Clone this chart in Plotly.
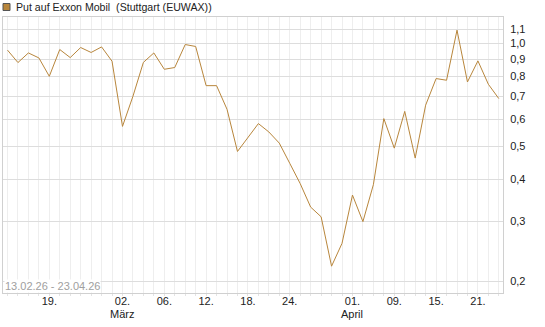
import plotly.graph_objects as go

# Trading days 13.02.26 - 23.04.26 (Stuttgart, excl. Good Friday / Easter Monday)
dates = [
    "13.02.26", "16.02.26", "17.02.26", "18.02.26", "19.02.26", "20.02.26",
    "23.02.26", "24.02.26", "25.02.26", "26.02.26", "27.02.26",
    "02.03.26", "03.03.26", "04.03.26", "05.03.26", "06.03.26",
    "09.03.26", "10.03.26", "11.03.26", "12.03.26", "13.03.26",
    "16.03.26", "17.03.26", "18.03.26", "19.03.26", "20.03.26",
    "23.03.26", "24.03.26", "25.03.26", "26.03.26", "27.03.26",
    "30.03.26", "31.03.26", "01.04.26", "02.04.26",
    "07.04.26", "08.04.26", "09.04.26", "10.04.26",
    "13.04.26", "14.04.26", "15.04.26", "16.04.26", "17.04.26",
    "20.04.26", "21.04.26", "22.04.26", "23.04.26",
]
values = [
    0.956, 0.879, 0.938, 0.907, 0.801, 0.960,
    0.909, 0.973, 0.941, 0.977, 0.887,
    0.571, 0.700, 0.880, 0.938, 0.840,
    0.850, 0.993, 0.980, 0.752, 0.752,
    0.641, 0.482, 0.530, 0.582, 0.550,
    0.510, 0.445, 0.388, 0.331, 0.310,
    0.222, 0.259, 0.359, 0.300,
    0.385, 0.602, 0.493, 0.632,
    0.461, 0.659, 0.789, 0.780, 1.094,
    0.771, 0.889, 0.759, 0.689,
]
x_tick_labels = {
    "19.02.26": "19.", "02.03.26": "02.", "06.03.26": "06.",
    "12.03.26": "12.", "18.03.26": "18.", "24.03.26": "24.",
    "01.04.26": "01.", "09.04.26": "09.", "15.04.26": "15.",
    "21.04.26": "21.",
}
month_labels = {"02.03.26": "März", "01.04.26": "April"}
y_ticks = [0.2, 0.3, 0.4, 0.5, 0.6, 0.7, 0.8, 0.9, 1.0, 1.1]
y_tick_labels = ["0,2", "0,3", "0,4", "0,5", "0,6", "0,7", "0,8", "0,9", "1,0", "1,1"]
series_name = "Put auf Exxon Mobil  (Stuttgart (EUWAX))"
range_text = "13.02.26 - 23.04.26"

LINE = "#b8863c"
FONT = "Liberation Sans, Arial, sans-serif"

W, H = 545, 327
ML, MR, MT, MB = 3, 42, 17, 34
PW, PH = W - ML - MR, H - MT - MB

def px_x(p):
    return (p - ML) / PW

def px_y(p):
    return 1 - (p - MT) / PH

fig = go.Figure()
fig.add_trace(go.Scatter(
    x=dates, y=values, mode="lines", name=series_name,
    line=dict(color=LINE, width=1), showlegend=False, hoverinfo="x+y",
))

annotations = [
    dict(text=series_name, xref="paper", yref="paper",
         x=px_x(14), y=px_y(7), xanchor="left", yanchor="middle",
         showarrow=False, font=dict(size=10.6, color="#222", family=FONT)),
    dict(text=range_text, xref="paper", yref="paper",
         x=px_x(4), y=px_y(292.5), xanchor="left", yanchor="bottom",
         showarrow=False, bgcolor="white", borderpad=0,
         font=dict(size=11, color="#a0a0a0", family=FONT)),
]
for d, m in month_labels.items():
    annotations.append(dict(
        text=m, x=d, xref="x", yref="paper", y=px_y(314),
        xanchor="center", yanchor="middle", showarrow=False,
        font=dict(size=11, color="#222", family=FONT),
    ))

fig.update_layout(
    width=W, height=H,
    margin=dict(l=ML, r=MR, t=MT, b=MB, pad=0),
    paper_bgcolor="white", plot_bgcolor="white",
    font=dict(family=FONT, size=11, color="#222"),
    xaxis=dict(
        type="category", range=[-0.43, 47.4],
        tickmode="array", tickvals=dates,
        ticktext=[x_tick_labels.get(d, "") for d in dates],
        showgrid=True, gridcolor="#eeeeee", gridwidth=1,
        ticks="outside", ticklen=2, tickcolor="#e4e4e4",
        ticklabelstandoff=-4,
        showline=True, linecolor="#d0d0d0", linewidth=1, mirror=True,
        zeroline=False, fixedrange=True,
        tickfont=dict(size=11, color="#222"),
    ),
    yaxis=dict(
        type="log", side="right",
        range=[-0.7323, 0.0777],
        tickmode="array", tickvals=y_ticks, ticktext=y_tick_labels,
        showgrid=True, gridcolor="#dddddd", gridwidth=1,
        ticks="", ticklabelstandoff=4,
        showline=True, linecolor="#d0d0d0", linewidth=1, mirror=True,
        zeroline=False, fixedrange=True,
        tickfont=dict(size=11, color="#222"),
    ),
    shapes=[dict(
        type="rect", xref="paper", yref="paper",
        x0=px_x(3), x1=px_x(10), y0=px_y(10.5), y1=px_y(3.5),
        fillcolor=LINE, line=dict(color="#555", width=1),
    )],
    annotations=annotations,
)

fig.write_html("out.html", config={"displayModeBar": False})
